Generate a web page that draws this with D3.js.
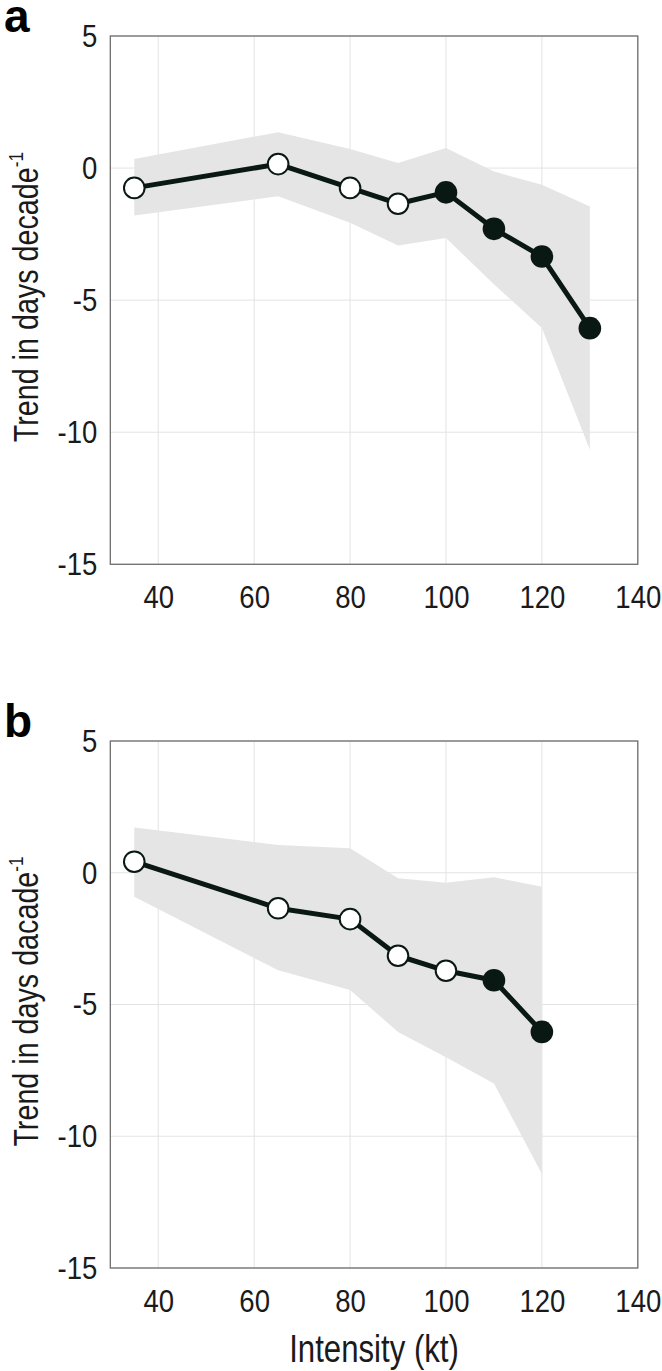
<!DOCTYPE html>
<html>
<head>
<meta charset="utf-8">
<title>Trend vs intensity</title>
<script src="https://cdn.jsdelivr.net/npm/d3@7/dist/d3.min.js"></script>
<style type="text/css">
body { margin: 0; background: #fff; }
svg text { font-family: "Liberation Sans", Arial, sans-serif; fill: #1a1a1a; }
.panel-label { font-weight: bold; fill: #000; }
</style>
</head>
<body>
<script type="text/javascript">
// panel a
var intensityA = [35, 65, 80, 90, 100, 110, 120, 130];
var trendA     = [-0.75, 0.15, -0.75, -1.35, -0.92, -2.3, -3.35, -6.06];
var upperA     = [0.34, 1.36, 0.72, 0.19, 0.76, -0.13, -0.63, -1.45];
var lowerA     = [-1.8, -1.07, -2.07, -2.93, -2.65, -4.4, -6.05, -10.66];
var filledA    = [false, false, false, false, true, true, true, true];

// panel b
var intensityB = [35, 65, 80, 90, 100, 110, 120];
var trendB     = [0.42, -1.35, -1.76, -3.15, -3.72, -4.08, -6.04];
var upperB     = [1.72, 1.05, 0.93, -0.21, -0.38, -0.17, -0.53];
var lowerB     = [-0.91, -3.7, -4.45, -6.04, -7.0, -8.0, -11.43];
var filledB    = [false, false, false, false, false, true, true];

var xTicks = [40, 60, 80, 100, 120, 140];
var yTicks = [-15, -10, -5, 0, 5];

var width = 662, height = 1371;
var left = 110.3, right = 637.8;
var narrow = 0.82;	// no Arial Narrow installed, squeeze glyphs instead

var svg = d3.select("body").append("svg")
	.attr("width", width)
	.attr("height", height);

// squeeze a simple text node horizontally
function condense(sel, k) {
	sel.each(function() {
		var w = this.getComputedTextLength();
		d3.select(this).attr("textLength", w * (k || narrow)).attr("lengthAdjust", "spacingAndGlyphs");
	});
}

function drawPanel(o) {
	var x = d3.scaleLinear().domain([30, 140]).range([left, right]);
	var y = d3.scaleLinear().domain([-15, 5]).range([o.bottom, o.top]);
	var g = svg.append("g");

	// grid
	g.selectAll(".gx").data(xTicks).enter().append("line")
		.attr("x1", function(d){ return x(d); }).attr("x2", function(d){ return x(d); })
		.attr("y1", o.top).attr("y2", o.bottom)
		.attr("stroke", "#e3e3e3").attr("stroke-width", 1);
	g.selectAll(".gy").data(yTicks).enter().append("line")
		.attr("x1", left).attr("x2", right)
		.attr("y1", function(d){ return y(d); }).attr("y2", function(d){ return y(d); })
		.attr("stroke", "#e3e3e3").attr("stroke-width", 1);

	var rows = o.xs.map(function(v, i) {
		return { x: v, t: o.trend[i], hi: o.upper[i], lo: o.lower[i], f: o.filled[i] };
	});

	// uncertainty band
	var area = d3.area()
		.x(function(d){ return x(d.x); })
		.y0(function(d){ return y(d.lo); })
		.y1(function(d){ return y(d.hi); });
	g.append("path").datum(rows)
		.attr("d", area)
		.attr("fill", "#e5e5e5");

	// frame
	g.append("rect")
		.attr("x", left).attr("y", o.top)
		.attr("width", right - left).attr("height", o.bottom - o.top)
		.attr("fill", "none").attr("stroke", "#6e6e6e").attr("stroke-width", 1.3);

	// trend line
	var line = d3.line()
		.x(function(d){ return x(d.x); })
		.y(function(d){ return y(d.t); });
	g.append("path").datum(rows)
		.attr("d", line)
		.attr("fill", "none")
		.attr("stroke", "#0a1814")
		.attr("stroke-width", 5)
		.attr("stroke-linejoin", "round");

	g.selectAll(".pt").data(rows).enter().append("circle")
		.attr("cx", function(d){ return x(d.x); })
		.attr("cy", function(d){ return y(d.t); })
		.attr("r", function(d){ return d.f ? 11.3 : 10.3; })
		.attr("fill", function(d){ return d.f ? "#0a1814" : "#fff"; })
		.attr("stroke", "#0a1814")
		.attr("stroke-width", function(d){ return d.f ? 0 : 2; });

	// axes
	var ax = g.append("g")
		.attr("transform", "translate(0," + o.bottom + ")")
		.call(d3.axisBottom(x).tickValues(xTicks).tickSize(0).tickPadding(21)
			.tickFormat(function(d){ return String(d); }));
	var ay = g.append("g")
		.attr("transform", "translate(" + left + ",0)")
		.call(d3.axisLeft(y).tickValues(yTicks).tickSize(0).tickPadding(13)
			.tickFormat(function(d){ return String(d); }));
	[ax, ay].forEach(function(a) {
		a.select(".domain").remove();
		a.selectAll("text").attr("font-size", 32).attr("fill", "#1a1a1a")
			.style("font-family", "'Liberation Sans', Arial, sans-serif")
			.call(condense, 0.86);
	});

	// y title, squeezed along its own direction
	var yt = g.append("text")
		.attr("transform", "translate(38," + ((o.top + o.bottom) / 2 - 3) + ") rotate(-90) scale(" + narrow + ",1)")
		.attr("text-anchor", "middle")
		.attr("font-size", 35);
	yt.append("tspan").text(o.ytitle);
	yt.append("tspan").attr("font-size", 21).attr("dy", -15).text("-1");

	// panel letter
	g.append("text").attr("class", "panel-label")
		.attr("x", 4).attr("y", o.top - 4)
		.attr("font-size", 46)
		.text(o.letter);
}

drawPanel({ letter: "a", top: 36, bottom: 564.3, xs: intensityA, trend: trendA,
	upper: upperA, lower: lowerA, filled: filledA, ytitle: "Trend in days decade" });
drawPanel({ letter: "b", top: 741, bottom: 1268, xs: intensityB, trend: trendB,
	upper: upperB, lower: lowerB, filled: filledB, ytitle: "Trend in days dacade" });

svg.append("text")
	.attr("x", (left + right) / 2).attr("y", 1362)
	.attr("text-anchor", "middle")
	.attr("font-size", 38)
	.text("Intensity (kt)")
	.call(condense);
</script>
</body>
</html>
